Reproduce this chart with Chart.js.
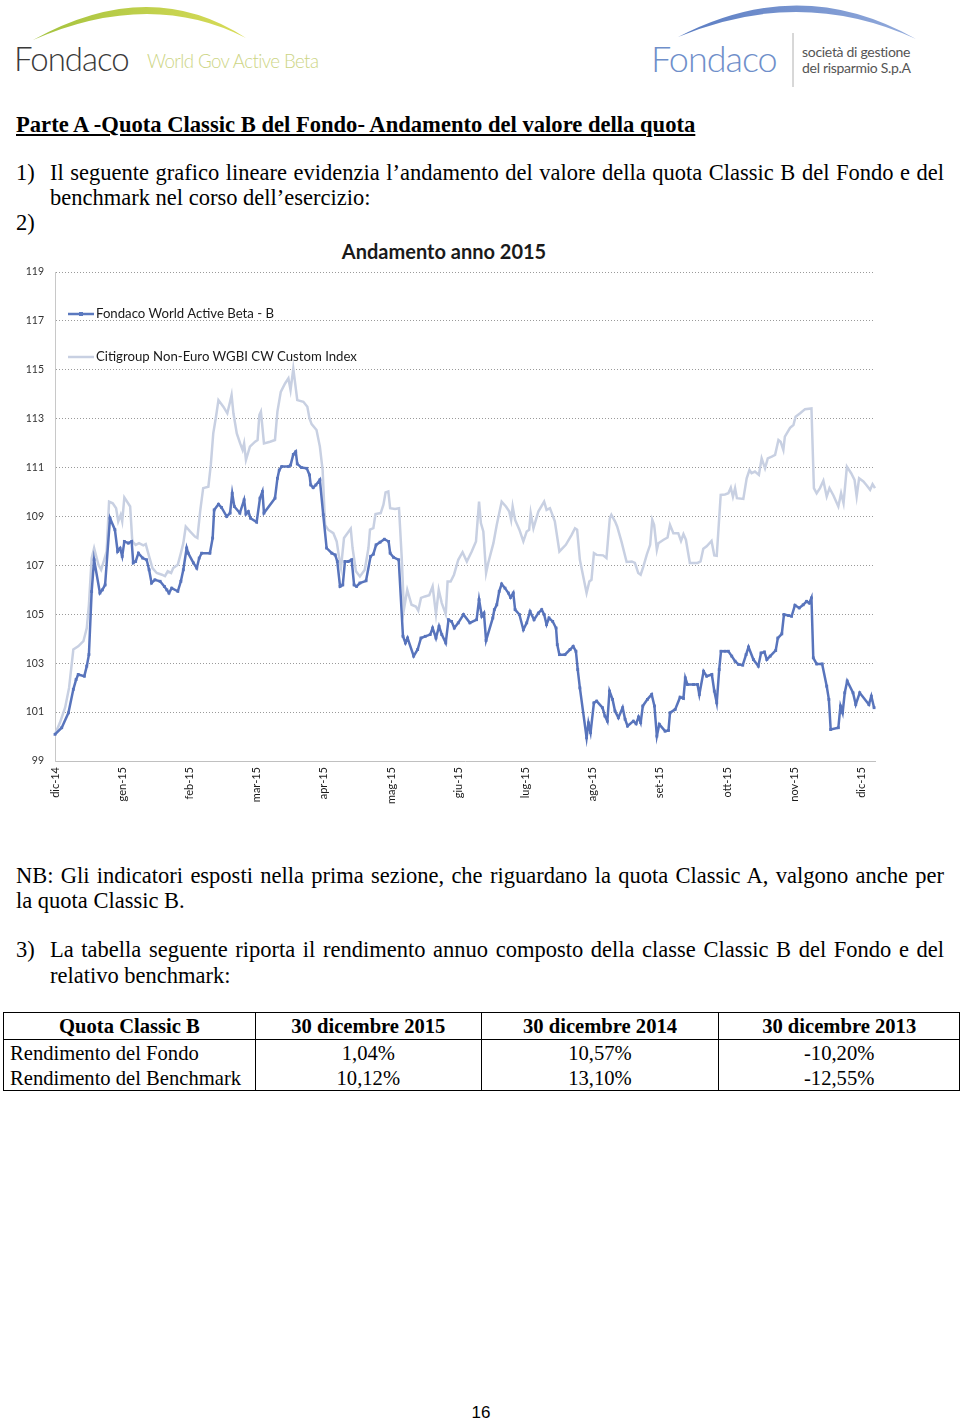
<!DOCTYPE html>
<html lang="it">
<head>
<meta charset="utf-8">
<script src="https://cdn.jsdelivr.net/npm/chart.js@4.4.1/dist/chart.umd.min.js"></script>
<style>
  html, body { margin:0; padding:0; background:#fff; }
  body { width:960px; height:1421px; position:relative; overflow:hidden; font-family:"Liberation Serif", "Times New Roman", serif; color:#000; }
  .abs { position:absolute; white-space:nowrap; }
  .serif { font-family:"Liberation Serif", serif; font-size:22.5px; line-height:22.5px; }
  table.res { position:absolute; left:3px; top:1012px; width:957px; border-collapse:collapse; font-family:"Liberation Serif", serif; font-size:20.6px; }
  table.res td, table.res th { border-left:1px solid #000; border-right:1px solid #000; padding:0 6px; height:25px; line-height:20px; white-space:nowrap; }
  table.res th { font-weight:bold; border-bottom:1px solid #000; border-top:1px solid #000; height:26px; text-align:center; }
  table.res tr:last-child td { border-bottom:1px solid #000; }
  table.res td.c { text-align:center; }
  .leg { position:absolute; font-family:Lato, "Open Sans", sans-serif; font-size:13.2px; color:#1a1a1a; white-space:nowrap; }
</style>
</head>
<body>
<!-- header logos -->
<svg class="abs" style="left:0;top:0" width="960" height="95">
  <defs>
    <linearGradient id="g1" x1="0" x2="1" y1="0" y2="0">
      <stop offset="0" stop-color="#a3c23e"/><stop offset="1" stop-color="#d9dc58"/>
    </linearGradient>
    <linearGradient id="g2" x1="0" x2="1" y1="0" y2="0">
      <stop offset="0" stop-color="#5a7cc2"/><stop offset="1" stop-color="#93abdc"/>
    </linearGradient>
  </defs>
  <path d="M 33 40 Q 150 -25 246 38 Q 150 -11 33 40 Z" fill="url(#g1)"/>
  <path d="M 678 37 Q 800 -27 916 39 Q 800 -14 678 37 Z" fill="url(#g2)"/>
  <line x1="793" y1="33" x2="793" y2="87" stroke="#b0b0b0" stroke-width="1"/>
</svg>
<div class="abs" style="left:14px;top:38px;font-family:Lato,sans-serif;font-weight:300;font-size:33px;color:#3a3a3a;letter-spacing:-1px;">Fondaco</div>
<div class="abs" style="left:147px;top:50px;font-family:Lato,sans-serif;font-weight:300;font-size:18.7px;color:#cdd585;letter-spacing:-0.6px;">World Gov Active Beta</div>
<div class="abs" style="left:651px;top:36px;font-family:Lato,sans-serif;font-weight:300;font-size:36px;color:#6f8fca;letter-spacing:-1px;">Fondaco</div>
<div class="abs" style="left:802px;top:44px;font-family:Lato,sans-serif;font-size:14px;color:#555;line-height:15.5px;letter-spacing:-0.3px;">società di gestione<br>del risparmio S.p.A</div>

<!-- heading and text -->
<div class="abs serif" style="left:16px;top:114px;font-size:22.6px;line-height:22.6px;font-weight:bold;text-decoration:underline;">Parte A -Quota Classic B del Fondo- Andamento del valore della quota</div>
<div class="abs serif" style="left:16px;top:162px;">1)</div>
<div class="abs serif fit" data-w="894" style="left:50px;top:162px;">Il seguente grafico lineare evidenzia l’andamento del valore della quota Classic B del Fondo e del</div>
<div class="abs serif" style="left:50px;top:187px;">benchmark nel corso dell’esercizio:</div>
<div class="abs serif" style="left:16px;top:212px;">2)</div>

<!-- chart -->
<div class="abs" style="left:0;top:241px;width:888px;text-align:center;font-family:Lato,sans-serif;font-weight:bold;font-size:20px;line-height:20px;color:#1a1a1a;">Andamento anno 2015</div>
<div class="abs" style="left:0;top:240px;width:900px;height:580px;">
  <canvas id="c" width="900" height="580"></canvas>
</div>
<svg class="abs" style="left:66px;top:305px" width="30" height="60">
  <line x1="2" y1="9" x2="28" y2="9" stroke="#5b79bf" stroke-width="2.5"/>
  <rect x="13" y="7" width="4" height="4" fill="#5b79bf"/>
  <line x1="2" y1="52" x2="28" y2="52" stroke="#c8d0e2" stroke-width="2.5"/>
</svg>
<div class="leg" style="left:96px;top:305px;">Fondaco World Active Beta - B</div>
<div class="leg" style="left:96px;top:348px;">Citigroup Non-Euro WGBI CW Custom Index</div>

<!-- NB and point 3 -->
<div class="abs serif fit" data-w="928" style="left:16px;top:865px;">NB: Gli indicatori esposti nella prima sezione, che riguardano la quota Classic A, valgono anche per</div>
<div class="abs serif" style="left:16px;top:890px;">la quota Classic B.</div>
<div class="abs serif" style="left:16px;top:939px;">3)</div>
<div class="abs serif fit" data-w="894" style="left:50px;top:939px;">La tabella seguente riporta il rendimento annuo composto della classe Classic B del Fondo e del</div>
<div class="abs serif" style="left:50px;top:965px;">relativo benchmark:</div>

<table class="res">
  <colgroup><col style="width:252px"><col style="width:226px"><col style="width:238px"><col style="width:241px"></colgroup>
  <tr><th>Quota Classic B</th><th>30 dicembre 2015</th><th>30 dicembre 2014</th><th>30 dicembre 2013</th></tr>
  <tr><td>Rendimento del Fondo</td><td class="c">1,04%</td><td class="c">10,57%</td><td class="c">-10,20%</td></tr>
  <tr><td>Rendimento del Benchmark</td><td class="c">10,12%</td><td class="c">13,10%</td><td class="c">-12,55%</td></tr>
</table>

<div class="abs" style="left:0;width:962px;top:1403px;text-align:center;font-family:'Liberation Sans',Arial,sans-serif;font-size:17px;">16</div>

<script>
// justify single lines to their full width
document.querySelectorAll('.fit').forEach(el => {
  const target = parseFloat(el.dataset.w);
  const nat = el.getBoundingClientRect().width;
  const spaces = (el.textContent.match(/ /g) || []).length;
  if (spaces) el.style.wordSpacing = ((target - nat) / spaces) + 'px';
});

// ---- data (trading-day index from 30/12/2014, value of the quota) ----
const monthLabels = ['dic-14','gen-15','feb-15','mar-15','apr-15','mag-15','giu-15','lug-15','ago-15','set-15','ott-15','nov-15','dic-15'];
const daysPerLabel = 22;

const fundDays = [0,2.2,4.4,6.0,6.9,7.6,9.6,10.4,11.1,12.0,12.8,14.7,15.5,16.4,18.0,19.6,20.5,21.3,22.0,22.7,24.0,25.1,25.6,26.4,27.3,28.7,30.0,30.8,31.6,32.7,34.4,35.8,36.6,37.3,38.2,40.2,41.2,42.0,43.1,43.6,45.3,46.4,47.2,48.0,50.7,51.6,52.1,53.5,54.5,56.2,57.3,58.0,58.7,60.5,61.9,62.5,63.3,64.0,66.0,67.1,67.9,68.4,72.0,72.8,73.4,74.2,76.4,77.1,78.0,78.8,79.3,80.7,82.4,83.3,83.7,84.5,85.4,86.7,87.8,88.9,90.6,91.7,92.4,93.3,94.2,94.9,96.0,97.1,97.9,98.7,99.8,101.8,103.3,104.2,105.1,106.4,107.8,109.2,109.7,110.8,112.5,113.9,114.7,115.4,117.4,118.7,119.8,121.2,122.8,123.6,124.7,125.7,126.6,127.9,128.8,129.8,130.7,132.0,133.7,135.8,138.0,138.8,139.7,140.4,141.1,143.3,143.8,144.6,145.4,146.2,147.3,148.4,149.1,150.0,150.6,152.0,153.3,154.4,155.5,156.8,158.2,159.3,160.1,160.9,161.7,162.9,164.0,164.4,165.1,166.9,168.6,169.6,170.5,171.1,171.8,174.0,174.6,175.3,176.4,177.3,179.2,180.0,180.8,181.5,182.5,183.3,184.4,185.8,186.6,187.4,189.3,190.2,191.0,191.7,192.4,193.9,195.3,196.2,197.0,197.8,199.7,200.8,201.3,203.0,204.6,205.7,206.3,207.0,209.0,210.3,210.9,212.3,213.3,215.0,215.8,216.6,217.4,218.0,219.3,220.4,221.5,222.6,223.7,225.1,226.2,227.0,228.6,230.2,231.1,232.2,233.0,234.1,235.9,236.6,237.9,238.6,240.1,241.1,242.2,243.6,244.9,246.0,246.9,247.6,248.2,249.3,251.1,252.6,253.3,253.9,256.4,257.1,257.8,258.5,259.3,261.2,262.1,263.4,266.4,267.2,268.1];
const fundValues = [100.09,100.36,100.97,101.93,102.33,102.54,102.47,102.88,103.35,105.93,107.23,105.87,106.0,106.2,108.93,108.46,107.57,107.7,107.37,107.98,107.91,107.98,107.1,107.16,107.5,107.3,107.23,106.82,106.28,106.41,106.35,106.14,106.0,105.87,106.07,105.94,106.35,106.82,107.71,107.5,107.1,106.89,107.3,107.5,107.5,108.12,109.27,109.5,109.37,109.0,109.14,109.95,109.41,109.14,109.68,109.1,109.2,108.93,108.77,109.75,110.02,109.14,109.75,110.56,110.9,111.04,111.04,111.1,111.54,111.65,111.15,111.0,110.97,110.7,110.29,110.18,110.29,110.5,109.07,107.71,107.5,107.43,107.16,106.14,106.2,107.16,107.16,107.23,106.2,106.14,106.28,106.37,107.37,107.46,107.84,107.95,108.07,107.98,107.5,107.33,107.23,104.1,103.83,104.03,103.29,103.56,104.03,104.1,104.17,104.44,104.03,104.51,104.17,103.83,104.78,104.71,104.44,104.65,104.99,104.65,104.78,105.6,104.92,105.05,103.93,104.85,105.19,105.39,105.94,106.24,106.07,105.87,105.69,105.87,105.19,104.99,104.37,104.65,105.12,104.78,105.05,105.19,104.99,104.58,104.85,104.71,104.44,103.76,103.35,103.35,103.56,103.69,103.49,102.74,101.99,99.95,100.56,100.16,101.38,101.45,101.18,100.84,100.63,101.86,101.52,101.04,100.77,101.18,100.71,100.43,100.63,100.52,100.8,100.57,101.25,101.52,101.72,101.25,100.02,100.5,100.22,100.25,100.97,101.11,101.61,101.56,102.4,102.13,102.13,102.13,101.72,102.67,102.47,102.54,101.86,101.38,102.74,103.49,103.49,103.49,103.29,103.08,102.95,102.92,103.35,103.66,103.15,102.88,103.42,103.46,103.15,103.29,103.52,104.03,104.2,104.99,104.95,104.92,105.37,105.26,105.39,105.53,105.46,105.67,103.22,102.97,102.97,102.06,101.52,100.29,100.36,101.25,100.97,101.79,102.27,101.79,101.31,101.79,101.31,101.65,101.18];

const benchDays = [0,1.6,3.3,4.6,6.0,7.6,9.3,10.4,11.1,12.0,12.8,14.2,15.1,16.1,16.9,17.7,18.9,20.0,20.7,21.5,22.0,22.7,24.6,25.3,26.4,27.5,28.9,29.7,30.8,31.9,33.3,35.0,36.0,36.9,38.0,38.7,40.2,41.2,42.0,42.8,44.2,45.8,46.6,47.5,48.5,50.2,51.0,51.8,52.7,53.5,55.1,56.4,57.3,57.8,58.4,59.5,60.6,61.4,61.9,62.5,63.8,65.5,66.3,66.9,67.4,68.4,70.4,72.0,72.8,73.9,75.3,76.4,77.1,78.0,79.3,81.3,82.6,83.3,84.0,85.6,86.7,87.6,88.4,89.4,91.1,92.2,93.1,93.6,94.6,96.8,97.4,98.5,99.8,101.4,102.6,103.1,104.2,104.9,106.6,107.5,108.2,109.1,109.7,111.3,112.6,113.5,114.2,115.3,116.7,118.1,118.9,119.8,121.1,122.5,123.6,124.7,125.6,126.6,127.9,128.5,129.5,130.6,132.0,133.4,134.8,136.4,137.8,138.8,139.4,140.2,141.1,141.8,143.5,144.6,146.2,147.6,148.7,149.3,149.8,150.6,152.0,153.3,154.4,155.2,155.7,156.6,158.2,160.1,160.9,162.0,163.6,165.1,167.2,169.1,170.2,170.9,171.8,172.9,174.0,174.9,175.6,176.4,177.3,179.4,180.5,181.6,182.1,183.3,184.0,185.4,187.1,188.8,189.8,190.9,191.7,192.6,193.7,194.8,195.5,196.1,197.0,197.5,199.2,200.5,201.3,202.4,204.0,204.9,205.7,206.5,207.8,210.3,211.3,212.2,213.3,214.9,215.8,216.6,217.9,219.3,220.4,221.2,221.9,222.6,223.2,225.3,226.4,227.3,228.0,229.1,230.4,231.3,232.4,233.3,234.6,235.7,236.8,237.5,238.4,238.9,240.6,241.7,242.4,243.9,245.5,247.6,248.4,249.3,250.4,251.5,252.6,253.5,254.8,256.4,257.3,258.1,259.2,260.6,261.7,262.4,263.2,264.6,265.7,266.8,267.6,268.4];
const benchValues = [100.09,100.56,101.18,101.99,103.56,103.69,103.9,104.44,105.39,107.3,107.71,107.03,106.82,107.23,107.57,109.61,109.54,109.34,108.8,109.07,108.8,109.78,109.41,107.98,107.84,107.91,107.82,107.87,107.37,106.89,106.69,106.62,106.56,106.76,106.69,106.89,107.03,107.5,107.91,108.59,108.39,108.18,108.12,109.2,110.16,110.22,111.11,112.4,113.08,113.76,113.49,113.22,113.69,113.97,113.22,112.4,111.99,111.72,111.99,111.31,111.86,112.06,112.13,113.15,113.29,111.99,112.06,112.13,113.29,114.1,114.44,114.65,114.17,115.05,113.76,113.69,113.49,113.01,112.78,112.54,111.86,110.9,108.66,108.46,108.32,107.98,107.23,106.9,108.12,108.5,107.71,106.76,106.55,106.82,107.71,108.46,108.52,109.1,109.14,109.48,109.98,110.02,109.34,109.31,109.34,107.3,105.19,106.0,105.39,105.32,105.15,105.67,105.73,105.78,106.14,105.01,106.0,105.46,105.01,106.34,106.34,106.62,107.23,107.54,107.16,107.57,107.98,109.61,108.73,108.39,106.69,107.1,107.91,108.66,109.61,109.41,109.2,108.86,109.41,108.86,108.46,107.98,108.39,108.46,109.14,108.52,109.2,109.61,109.27,109.34,108.8,107.57,107.84,108.25,108.52,108.46,107.23,106.55,105.87,106.34,106.41,107.5,107.43,107.41,107.3,108.93,109.07,108.8,108.59,107.98,107.14,107.16,107.1,106.69,106.62,106.96,107.44,107.84,108.86,108.66,107.64,107.91,108.05,108.14,108.66,108.32,108.32,108.0,108.28,108.05,107.1,107.1,107.16,107.68,107.78,108.0,107.41,107.39,109.88,109.9,109.95,110.18,109.81,110.16,109.75,109.72,110.56,110.9,110.77,110.84,110.7,111.38,110.97,111.38,111.45,111.52,112.13,112.06,111.72,112.27,112.63,112.74,113.08,113.22,113.39,113.42,110.16,109.95,110.16,110.46,109.82,110.16,109.86,109.41,109.95,109.54,111.04,110.77,110.5,109.82,110.56,110.43,110.27,110.09,110.32,110.16];

const yTicks = [99,101,103,105,107,109,111,113,115,117,119];

// ---- chart ----
const toPoints = (xs, ys) => xs.map((x, i) => ({ x: x, y: ys[i] }));

new Chart(document.getElementById('c'), {
  type: 'line',
  data: {
    datasets: [
      { label: 'Fondaco World Active Beta - B', data: toPoints(fundDays, fundValues),
        borderColor: '#5874bc', backgroundColor: '#5874bc', borderWidth: 2.5,
        pointStyle: 'rect', pointRadius: 2, pointBorderWidth: 0, pointBackgroundColor: '#5874bc', tension: 0 },
      { label: 'Citigroup Non-Euro WGBI CW Custom Index', data: toPoints(benchDays, benchValues),
        borderColor: '#c8d0e2', backgroundColor: '#c8d0e2', borderWidth: 2.5, pointRadius: 0, tension: 0 }
    ]
  },
  options: {
    responsive: false, animation: false, devicePixelRatio: 1,
    layout: { padding: { top: 32, right: 25, left: 0, bottom: 0 } },
    plugins: { legend: { display: false }, title: { display: false }, tooltip: { enabled: false } },
    scales: {
      x: {
        type: 'linear', bounds: 'data', grace: 0,
        ticks: {
          stepSize: daysPerLabel, includeBounds: false, autoSkip: false, maxRotation: 90, minRotation: 90,
          padding: 6, color: '#1a1a1a', font: { family: 'Lato', size: 11 },
          callback: (v) => { const k = v / daysPerLabel; return Number.isInteger(k) && monthLabels[k] ? monthLabels[k] : ''; }
        },
        grid: { display: false, drawTicks: false },
        border: { display: true, color: '#c0c0c0', width: 1 },
        afterFit: (s) => { s.height = 59; }
      },
      y: {
        min: yTicks[0], max: yTicks[yTicks.length - 1],
        afterBuildTicks: (s) => { s.ticks = yTicks.map(v => ({ value: v })); },
        ticks: { padding: 11, color: '#333', font: { family: 'Lato', size: 10.5 } },
        grid: { color: '#9a9a9a', lineWidth: 1, drawTicks: false },
        border: { display: true, color: '#c8c8c8', width: 1, dash: [1, 2] },
        afterFit: (s) => { s.width = 55; }
      }
    }
  }
});
</script>
</body>
</html>
